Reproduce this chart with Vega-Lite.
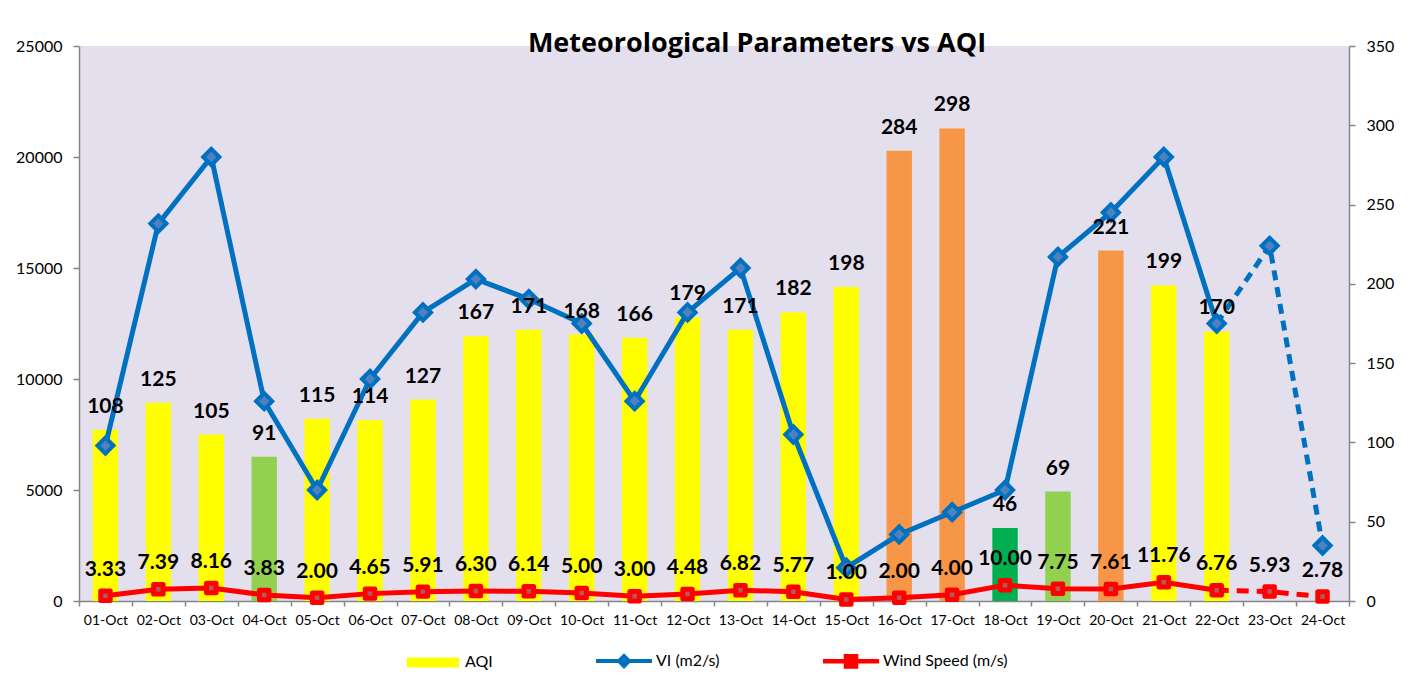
{
  "$schema": "https://vega.github.io/schema/vega-lite/v6.json",
  "width": 1270,
  "height": 555,
  "autosize": {"type": "none"},
  "padding": {"left": 79, "top": 46, "right": 65, "bottom": 83},
  "background": "white",
  "config": {
    "view": {"fill": "#E4DFEC", "stroke": null},
    "font": "Lato",
    "axis": {
      "domainColor": "#868686", "domainWidth": 1.5, "tickColor": "#868686", "tickWidth": 1.5,
      "labelColor": "black", "labelFont": "Lato", "grid": false, "title": null
    }
  },
  "title": {
    "text": "Meteorological Parameters vs AQI",
    "font": "Open Sans", "fontSize": 27, "fontWeight": "bold", "color": "black",
    "anchor": "middle", "frame": "group", "dx": 43, "dy": 35, "offset": -6, "baseline": "alphabetic"
  },
  "data": {
    "values": [
      {"date": "01-Oct", "AQI": 108, "band": "Moderate", "VI": 7000, "wind": 3.33},
      {"date": "02-Oct", "AQI": 125, "band": "Moderate", "VI": 17000, "wind": 7.39},
      {"date": "03-Oct", "AQI": 105, "band": "Moderate", "VI": 20000, "wind": 8.16},
      {"date": "04-Oct", "AQI": 91, "band": "Satisfactory", "VI": 9000, "wind": 3.83},
      {"date": "05-Oct", "AQI": 115, "band": "Moderate", "VI": 5000, "wind": 2.00},
      {"date": "06-Oct", "AQI": 114, "band": "Moderate", "VI": 10000, "wind": 4.65},
      {"date": "07-Oct", "AQI": 127, "band": "Moderate", "VI": 13000, "wind": 5.91},
      {"date": "08-Oct", "AQI": 167, "band": "Moderate", "VI": 14500, "wind": 6.30},
      {"date": "09-Oct", "AQI": 171, "band": "Moderate", "VI": 13600, "wind": 6.14},
      {"date": "10-Oct", "AQI": 168, "band": "Moderate", "VI": 12500, "wind": 5.00},
      {"date": "11-Oct", "AQI": 166, "band": "Moderate", "VI": 9000, "wind": 3.00},
      {"date": "12-Oct", "AQI": 179, "band": "Moderate", "VI": 13000, "wind": 4.48},
      {"date": "13-Oct", "AQI": 171, "band": "Moderate", "VI": 15000, "wind": 6.82},
      {"date": "14-Oct", "AQI": 182, "band": "Moderate", "VI": 7500, "wind": 5.77},
      {"date": "15-Oct", "AQI": 198, "band": "Moderate", "VI": 1500, "wind": 1.00},
      {"date": "16-Oct", "AQI": 284, "band": "Poor", "VI": 3000, "wind": 2.00},
      {"date": "17-Oct", "AQI": 298, "band": "Poor", "VI": 4000, "wind": 4.00},
      {"date": "18-Oct", "AQI": 46, "band": "Good", "VI": 5000, "wind": 10.00},
      {"date": "19-Oct", "AQI": 69, "band": "Satisfactory", "VI": 15500, "wind": 7.75},
      {"date": "20-Oct", "AQI": 221, "band": "Poor", "VI": 17500, "wind": 7.61},
      {"date": "21-Oct", "AQI": 199, "band": "Moderate", "VI": 20000, "wind": 11.76},
      {"date": "22-Oct", "AQI": 170, "band": "Moderate", "VI": 12500, "wind": 6.76},
      {"date": "23-Oct", "AQI": null, "band": null, "VI": 16000, "wind": 5.93},
      {"date": "24-Oct", "AQI": null, "band": null, "VI": 2500, "wind": 2.78}
    ]
  },
  "encoding": {
    "x": {
      "field": "date", "type": "ordinal", "sort": null,
      "scale": {
        "domain": ["01-Oct","02-Oct","03-Oct","04-Oct","05-Oct","06-Oct","07-Oct","08-Oct","09-Oct","10-Oct","11-Oct","12-Oct","13-Oct","14-Oct","15-Oct","16-Oct","17-Oct","18-Oct","19-Oct","20-Oct","21-Oct","22-Oct","23-Oct","24-Oct"],
        "paddingInner": 0, "paddingOuter": 0
      },
      "axis": {"labelAngle": 0, "labelFontSize": 14, "tickSize": 5, "tickBand": "extent", "labelPadding": 7, "title": null}
    }
  },
  "layer": [
    {
      "mark": {"type": "bar", "width": {"band": 0.48}},
      "encoding": {
        "y": {"field": "AQI", "type": "quantitative", "scale": {"domain": [0, 350], "nice": false},
              "axis": {"orient": "right", "values": [0,50,100,150,200,250,300,350], "format": "d", "tickSize": 6, "labelPadding": 11, "labelFontSize": 16, "title": null}},
        "color": {
          "field": "band", "type": "nominal",
          "scale": {"domain": ["Moderate","VI (m2/s)","Wind Speed (m/s)","Satisfactory","Good","Poor"],
                    "range": ["#FFFF00","#0070C0","#FF0000","#92D050","#00B050","#F79646"]},
          "legend": {
            "values": ["Moderate","VI (m2/s)","Wind Speed (m/s)"],
            "labelExpr": "datum.label == 'Moderate' ? 'AQI' : datum.label",
            "orient": "none", "legendX": 325, "legendY": 586, "direction": "horizontal",
            "title": null, "labelFont": "Lato", "labelFontSize": 16, "labelColor": "black",
            "labelOffset": 3, "columnPadding": 100, "symbolSize": 3136,
            "encode": {
              "symbols": {
                "update": {
                  "shape": {"signal": "datum.value === 'Moderate' ? 'M-0.93,-0.18H0.93V0.18H-0.93Z' : datum.value === 'VI (m2/s)' ? 'M-1,-0.07H1V0.07H-1Z M0,-0.28L0.28,0L0,0.28L-0.28,0Z' : 'M-1,-0.08H1V0.08H-1Z M-0.26,-0.26H0.26V0.26H-0.26Z'"},
                  "fill": {"signal": "scale('color', datum.value)"},
                  "stroke": {"value": "transparent"},
                  "opacity": {"value": 1},
                  "size": {"value": 3136}
                }
              }
            }
          }
        }
      }
    },
    {
      "transform": [{"filter": "datum.AQI != null"}],
      "mark": {"type": "line", "color": "#0070C0", "strokeWidth": 5},
      "encoding": {
        "y": {"field": "VI", "type": "quantitative", "scale": {"domain": [0, 25000], "nice": false},
              "axis": {"orient": "left", "values": [0,5000,10000,15000,20000,25000], "format": "d", "tickSize": 6, "labelPadding": 11, "labelFontSize": 16, "title": null}}
      }
    },
    {
      "transform": [{"filter": {"field": "date", "oneOf": ["22-Oct","23-Oct","24-Oct"]}}],
      "mark": {"type": "line", "color": "#0070C0", "strokeWidth": 5, "strokeDash": [10, 7]},
      "encoding": {
        "y": {"field": "VI", "type": "quantitative", "scale": {"domain": [0, 25000], "nice": false}, "axis": null}
      }
    },
    {
      "mark": {"type": "point", "shape": "diamond", "filled": true, "fill": "#4F81BD", "stroke": "#0070C0", "strokeWidth": 4, "size": 260, "opacity": 1},
      "encoding": {
        "y": {"field": "VI", "type": "quantitative", "scale": {"domain": [0, 25000], "nice": false}, "axis": null}
      }
    },
    {
      "transform": [{"filter": "datum.AQI != null"}],
      "mark": {"type": "line", "color": "#FF0000", "strokeWidth": 5},
      "encoding": {
        "y": {"field": "wind", "type": "quantitative", "scale": {"domain": [0, 350], "nice": false}, "axis": null}
      }
    },
    {
      "transform": [{"filter": {"field": "date", "oneOf": ["22-Oct","23-Oct","24-Oct"]}}],
      "mark": {"type": "line", "color": "#FF0000", "strokeWidth": 5, "strokeDash": [12, 8]},
      "encoding": {
        "y": {"field": "wind", "type": "quantitative", "scale": {"domain": [0, 350], "nice": false}, "axis": null}
      }
    },
    {
      "mark": {"type": "point", "shape": "square", "filled": true, "fill": "#B05A5A", "stroke": "#FF0000", "strokeWidth": 5, "strokeJoin": "round", "size": 90, "opacity": 1},
      "encoding": {
        "y": {"field": "wind", "type": "quantitative", "scale": {"domain": [0, 350], "nice": false}, "axis": null}
      }
    },
    {
      "mark": {"type": "text", "font": "Lato", "fontSize": 21, "fontWeight": "bold", "color": "black", "baseline": "alphabetic", "dy": -17},
      "encoding": {
        "y": {"field": "AQI", "type": "quantitative", "scale": {"domain": [0, 350], "nice": false}, "axis": null},
        "text": {"field": "AQI", "type": "quantitative", "format": "d"}
      }
    },
    {
      "mark": {"type": "text", "font": "Lato", "fontSize": 21, "fontWeight": "bold", "color": "black", "baseline": "alphabetic", "dy": -20},
      "encoding": {
        "y": {"field": "wind", "type": "quantitative", "scale": {"domain": [0, 350], "nice": false}, "axis": null},
        "text": {"field": "wind", "type": "quantitative", "format": ".2f"}
      }
    }
  ],
  "resolve": {"scale": {"y": "independent"}}
}
